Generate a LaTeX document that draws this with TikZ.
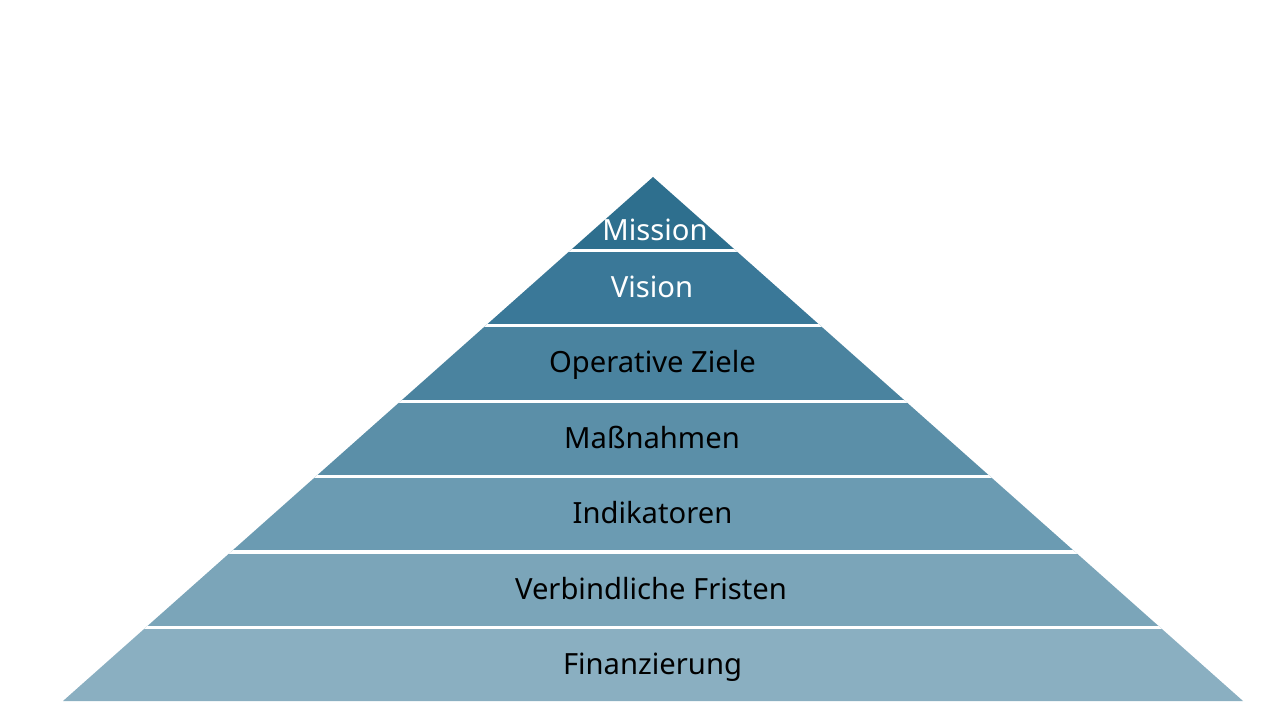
\documentclass[tikz,border=0pt]{standalone}
\usepackage{fontspec}
\setmainfont{Noto Sans}
\definecolor{cA}{HTML}{2E6F8E}
\definecolor{cB}{HTML}{3A7898}
\definecolor{cC}{HTML}{4A839F}
\definecolor{cD}{HTML}{5B8FA8}
\definecolor{cE}{HTML}{6B9BB2}
\definecolor{cF}{HTML}{7BA5B9}
\definecolor{cG}{HTML}{8AAFC1}
\tikzset{
  lbl/.style={anchor=base, inner sep=0pt, font=\fontsize{21.9pt}{26pt}\selectfont, text=black},
  lblw/.style={lbl, text=white},
  gap/.style={white, line width=2.4pt}
}
\begin{document}
\begin{tikzpicture}[x=0.75pt,y=-0.75pt]
\useasboundingbox (0,0) rectangle (1280,720);
\coordinate (apex) at (653,177);
\coordinate (bl) at (63,701);
\coordinate (br) at (1243,701);
\begin{scope}
  \clip (apex) -- (br) -- (bl) -- cycle;
  \fill[cA] (0,170) rectangle (1280,250.4);
  \fill[cB] (0,250.4) rectangle (1280,325.8);
  \fill[cC] (0,325.8) rectangle (1280,401.2);
  \fill[cD] (0,401.2) rectangle (1280,476.6);
  \fill[cE] (0,476.6) rectangle (1280,552);
  \fill[cF] (0,552) rectangle (1280,627.4);
  \fill[cG] (0,627.4) rectangle (1280,710);
  \foreach \yy in {250.4,325.8,401.2,476.6,552,627.4}
    \draw[gap] (0,\yy) -- (1280,\yy);
\end{scope}
\node[lblw] (mission) at (655,240) {Mission};
\node[lblw] (vision) at (652,297) {Vision};
\node[lbl] (ziele) at (652.5,372) {Operative Ziele};
\node[lbl] (massn) at (652,448) {Maßnahmen};
\node[lbl] (indik) at (652.5,523) {Indikatoren};
\node[lbl] (fristen) at (651,599) {Verbindliche Fristen};
\node[lbl] (finanz) at (652.5,674) {Finanzierung};
\end{tikzpicture}
\end{document}
